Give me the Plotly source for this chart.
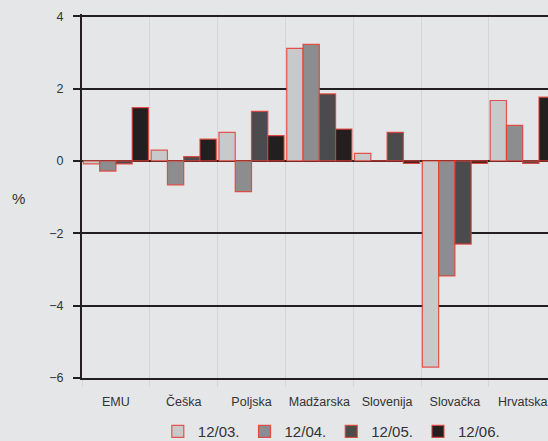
import plotly.graph_objects as go

categories = ["EMU", "Češka", "Poljska", "Madžarska", "Slovenija", "Slovačka", "Hrvatska"]
series_names = ["12/03.", "12/04.", "12/05.", "12/06."]
v_1203 = [-0.08, 0.30, 0.79, 3.11, 0.21, -5.70, 1.67]
v_1204 = [-0.28, -0.66, -0.85, 3.22, 0.0, -3.18, 0.98]
v_1205 = [-0.08, 0.12, 1.37, 1.85, 0.79, -2.30, -0.07]
v_1206 = [1.47, 0.60, 0.70, 0.88, -0.07, -0.07, 1.76]
y_ticks = [4, 2, 0, -2, -4, -6]
y_tick_text = ["4", "2", "0", "\u22122", "\u22124", "\u22126"]

colors = ["#c8c9cb", "#8c8d8f", "#4b4b4d", "#231f20"]
outline = "rgba(230,60,50,0.85)"

fig = go.Figure()
for name, vals, col in zip(series_names, [v_1203, v_1204, v_1205, v_1206], colors):
    fig.add_trace(go.Bar(
        x=categories, y=vals, name=name,
        marker=dict(color=col, line=dict(color=outline, width=1.2)),
    ))

bg = "#e5e6e8"
txt = "#333333"
fig.update_layout(
    width=548, height=441,
    paper_bgcolor=bg, plot_bgcolor=bg,
    margin=dict(l=82, r=0, t=14, b=63, autoexpand=False),
    barmode="group", bargap=0.04, bargroupgap=0,
    font=dict(family="Liberation Sans, Arial, sans-serif", color=txt, size=12.5),
    showlegend=True,
    legend=dict(orientation="h", x=0.535, xanchor="center", y=-0.102, yanchor="top",
                font=dict(size=15, color=txt), bgcolor="rgba(0,0,0,0)",
                itemwidth=30, traceorder="normal"),
    xaxis=dict(
        range=[-0.5, 6.373], tickson="boundaries", showgrid=True, automargin=False,
        tickangle=0, ticklabelstandoff=11,
        gridcolor="#d5d6d8", gridwidth=1,
        ticks="outside", ticklen=7, tickcolor="#d5d6d8", tickwidth=1,
        showline=True, linecolor="#231f20", linewidth=2,
        zeroline=False, tickfont=dict(size=12.5, color=txt),
    ),
    yaxis=dict(
        range=[-6, 4.06], tickvals=y_ticks, ticktext=y_tick_text, automargin=False,
        showgrid=True, gridcolor="#231f20", gridwidth=2,
        zeroline=True, zerolinecolor="#231f20", zerolinewidth=2,
        ticks="outside", ticklen=7, tickcolor="#231f20", tickwidth=2,
        showline=True, linecolor="#231f20", linewidth=2,
        tickfont=dict(size=12.5, color=txt), ticklabelstandoff=7,
    ),
    annotations=[dict(text="%", x=-0.137, y=0.493, xref="paper", yref="paper",
                      xanchor="center", yanchor="middle",
                      showarrow=False, font=dict(size=15, color=txt))],
)

fig.write_html("out.html", config={"displayModeBar": False},
               post_script="document.body.style.margin='0px';document.body.style.background='#e5e6e8';")
